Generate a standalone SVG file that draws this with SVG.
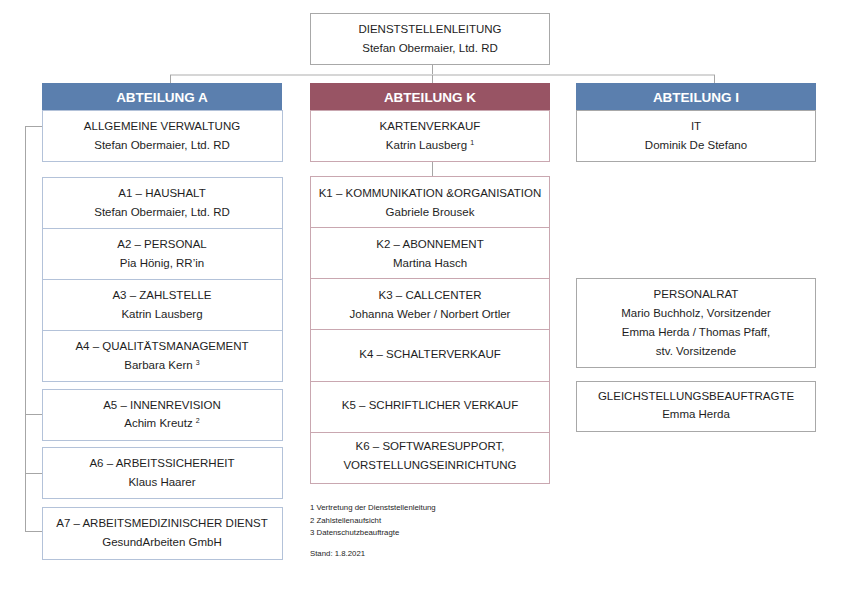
<svg xmlns="http://www.w3.org/2000/svg" width="842" height="595" viewBox="0 0 842 595">
<style>
text{font-family:"Liberation Sans",Arial,sans-serif;font-size:11.5px;fill:#1e1e1e;text-anchor:middle}
.hd{font-weight:bold;font-size:13.5px;fill:#ffffff}
.fn{font-size:7.8px;text-anchor:start}
.sup{font-size:7px}
.boxA{fill:#fff;stroke:#b3c2d9;stroke-width:1}
.boxK{fill:#fff;stroke:#c9a7b0;stroke-width:1}
.boxG{fill:#fff;stroke:#a8a8a8;stroke-width:1}
.conn{fill:none;stroke:#a6a6a6;stroke-width:1}
</style>
<rect width="842" height="595" fill="#fff"/>
<g id="connectors">
<line class="conn" x1="432.5" y1="64" x2="432.5" y2="75"/>
<line x1="170" y1="75" x2="715" y2="75" stroke="#d6d6d6" stroke-width="2"/>
<line class="conn" x1="170.5" y1="75" x2="170.5" y2="83"/>
<line class="conn" x1="432.5" y1="75" x2="432.5" y2="83"/>
<line class="conn" x1="714.5" y1="75" x2="714.5" y2="83"/>
<line class="conn" x1="432.5" y1="161" x2="432.5" y2="177"/>
<line class="conn" x1="25.5" y1="126" x2="25.5" y2="531.5"/>
<line class="conn" x1="25" y1="126.5" x2="42" y2="126.5"/>
<line class="conn" x1="25" y1="414.5" x2="42" y2="414.5"/>
<line class="conn" x1="25" y1="473.5" x2="42" y2="473.5" stroke="#c4c4c4"/>
<line class="conn" x1="25" y1="531.5" x2="42" y2="531.5"/>
</g>
<g id="dienststellenleitung">
<rect class="boxG" x="310.5" y="13.5" width="239" height="51"/>
<text x="430" y="33">DIENSTSTELLENLEITUNG</text>
<text x="430" y="52">Stefan Obermaier, Ltd. RD</text>
</g>
<g id="abteilung-a">
<rect x="42" y="83" width="240" height="27" fill="#5b7fae"/>
<text class="hd" x="162" y="102">ABTEILUNG A</text>
<rect class="boxA" x="42.5" y="110.5" width="240" height="51"/>
<text x="162" y="130">ALLGEMEINE VERWALTUNG</text>
<text x="162" y="149">Stefan Obermaier, Ltd. RD</text>
</g>
<g id="abteilung-k">
<rect x="310" y="83" width="240" height="27" fill="#985464"/>
<text class="hd" x="430" y="102">ABTEILUNG K</text>
<rect class="boxK" x="310.5" y="110.5" width="239" height="51"/>
<text x="430" y="130">KARTENVERKAUF</text>
<text x="430" y="149">Katrin Lausberg <tspan class="sup" dy="-4">1</tspan></text>
</g>
<g id="abteilung-i">
<rect x="576" y="83" width="240" height="27" fill="#5b7fae"/>
<text class="hd" x="696" y="102">ABTEILUNG I</text>
<rect class="boxG" x="576.5" y="110.5" width="239" height="51"/>
<text x="696" y="130">IT</text>
<text x="696" y="149">Dominik De Stefano</text>
</g>
<g id="a1">
<rect class="boxA" x="42.5" y="177.5" width="240" height="51"/>
<text x="162" y="197">A1 – HAUSHALT</text>
<text x="162" y="216">Stefan Obermaier, Ltd. RD</text>
</g>
<g id="a2">
<rect class="boxA" x="42.5" y="228.5" width="240" height="51"/>
<text x="162" y="248">A2 – PERSONAL</text>
<text x="162" y="267">Pia Hönig, RR’in</text>
</g>
<g id="a3">
<rect class="boxA" x="42.5" y="279.5" width="240" height="51"/>
<text x="162" y="299">A3 – ZAHLSTELLE</text>
<text x="162" y="318">Katrin Lausberg</text>
</g>
<g id="a4">
<rect class="boxA" x="42.5" y="330.5" width="240" height="51"/>
<text x="162" y="350">A4 – QUALITÄTSMANAGEMENT</text>
<text x="162" y="369">Barbara Kern <tspan class="sup" dy="-4">3</tspan></text>
</g>
<g id="a5">
<rect class="boxA" x="42.5" y="389.5" width="240" height="51"/>
<text x="162" y="409">A5 – INNENREVISION</text>
<text x="162" y="427">Achim Kreutz <tspan class="sup" dy="-4">2</tspan></text>
</g>
<g id="a6">
<rect class="boxA" x="42.5" y="447.5" width="240" height="51"/>
<text x="162" y="467">A6 – ARBEITSSICHERHEIT</text>
<text x="162" y="486">Klaus Haarer</text>
</g>
<g id="a7">
<rect class="boxA" x="42.5" y="507.5" width="240" height="52"/>
<text x="162" y="527">A7 – ARBEITSMEDIZINISCHER DIENST</text>
<text x="162" y="546">GesundArbeiten GmbH</text>
</g>
<g id="k1">
<rect class="boxK" x="310.5" y="176.5" width="239" height="51"/>
<text x="430" y="197">K1 – KOMMUNIKATION &amp;ORGANISATION</text>
<text x="430" y="216">Gabriele Brousek</text>
</g>
<g id="k2">
<rect class="boxK" x="310.5" y="227.5" width="239" height="51"/>
<text x="430" y="248">K2 – ABONNEMENT</text>
<text x="430" y="267">Martina Hasch</text>
</g>
<g id="k3">
<rect class="boxK" x="310.5" y="278.5" width="239" height="51"/>
<text x="430" y="299">K3 – CALLCENTER</text>
<text x="430" y="318">Johanna Weber / Norbert Ortler</text>
</g>
<g id="k4">
<rect class="boxK" x="310.5" y="329.5" width="239" height="52"/>
<text x="430" y="358">K4 – SCHALTERVERKAUF</text>
</g>
<g id="k5">
<rect class="boxK" x="310.5" y="381.5" width="239" height="51"/>
<text x="430" y="409">K5 – SCHRIFTLICHER VERKAUF</text>
</g>
<g id="k6">
<rect class="boxK" x="310.5" y="432.5" width="239" height="51"/>
<text x="430" y="450">K6 – SOFTWARESUPPORT,</text>
<text x="430" y="469">VORSTELLUNGSEINRICHTUNG</text>
</g>
<g id="personalrat">
<rect class="boxG" x="576.5" y="278.5" width="239" height="89"/>
<text x="696" y="298">PERSONALRAT</text>
<text x="696" y="317">Mario Buchholz, Vorsitzender</text>
<text x="696" y="336">Emma Herda / Thomas Pfaff,</text>
<text x="696" y="355">stv. Vorsitzende</text>
</g>
<g id="gleichstellungsbeauftragte">
<rect class="boxG" x="576.5" y="381.5" width="239" height="50"/>
<text x="696" y="400">GLEICHSTELLUNGSBEAUFTRAGTE</text>
<text x="696" y="418">Emma Herda</text>
</g>
<g id="footnotes">
<text class="fn" x="310" y="509.5">1 Vertretung der Dienststellenleitung</text>
<text class="fn" x="310" y="522.5">2 Zahlstellenaufsicht</text>
<text class="fn" x="310" y="535">3 Datenschutzbeauftragte</text>
<text class="fn" x="310" y="556">Stand: 1.8.2021</text>
</g>
</svg>
